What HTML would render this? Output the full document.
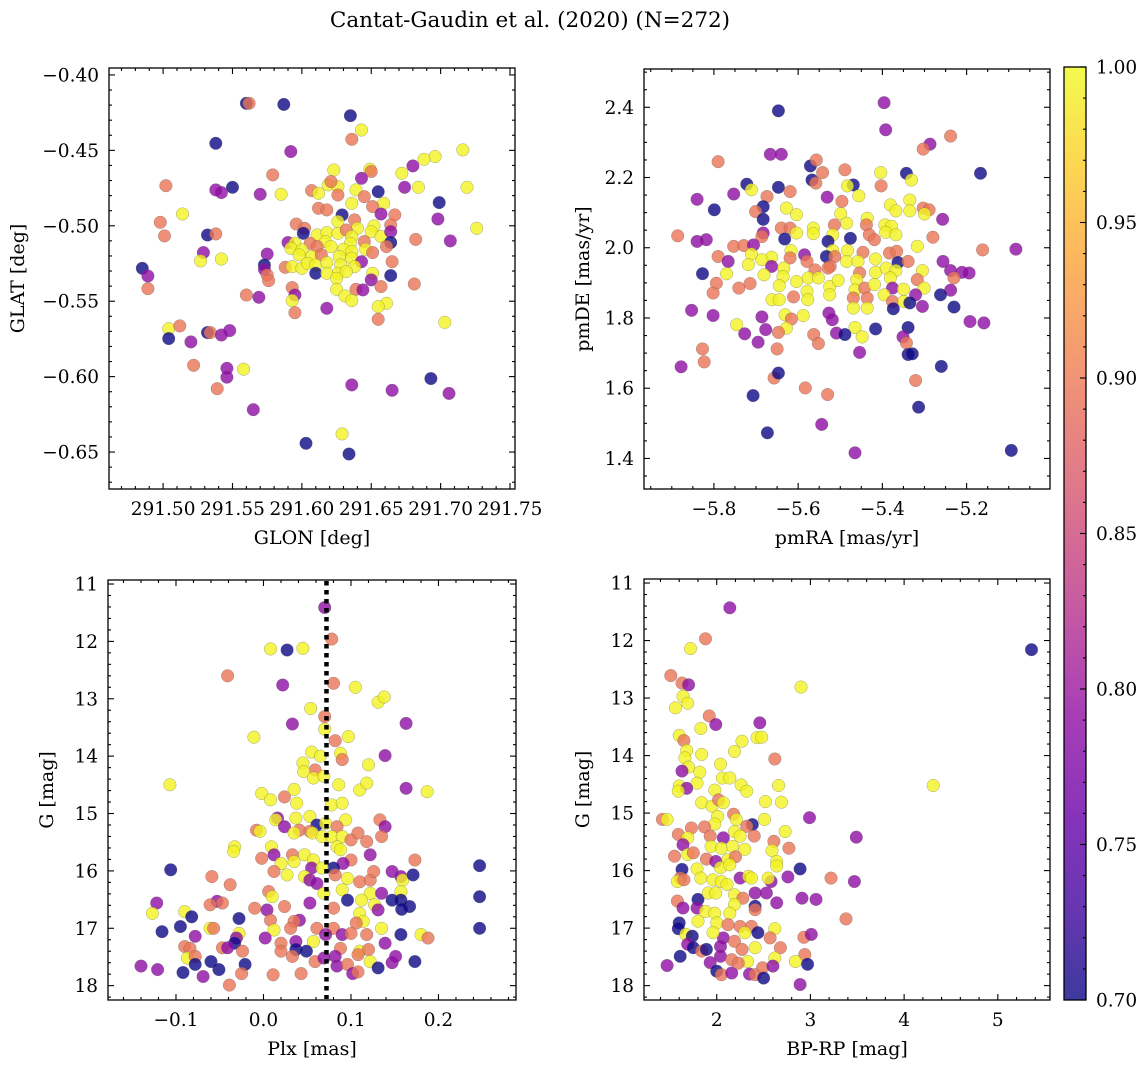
<!DOCTYPE html>
<html><head><meta charset="utf-8"><style>
html,body{margin:0;padding:0;background:#fff;}
svg{display:block;font-family:"DejaVu Serif","Liberation Serif",serif;}
</style></head><body>
<svg id="fig" width="1148" height="1067" viewBox="0 0 1148 1067" xmlns="http://www.w3.org/2000/svg">
<text x="530" y="27" font-size="21.5" text-anchor="middle">Cantat-Gaudin et al. (2020) (N=272)</text>
</svg>
<script>
const B=0.70,P=0.79,O=0.895,Y=0.995;
// Panel 1: GLON vs GLAT
const glon=[291.560,291.562,291.587,291.635,291.643,291.636,291.538,291.592,291.716,291.696,291.688,291.680,291.672,291.623,291.649,291.650,291.643,291.579,291.502,291.538,291.542,291.550,291.570,291.585,291.607,291.612,291.619,291.626,291.621,291.626,291.639,291.645,291.655,291.674,291.684,291.719,291.699,291.636,291.659,291.612,291.618,291.651,291.514,291.629,291.657,291.667,291.698,291.498,291.626,291.638,291.640,291.652,291.664,291.726,291.596,291.602,291.501,291.532,291.538,291.601,291.611,291.618,291.626,291.632,291.636,291.650,291.657,291.664,291.682,291.707,291.590,291.595,291.606,291.617,291.635,291.645,291.664,291.592,291.600,291.611,291.621,291.630,291.636,291.646,291.661,291.529,291.575,291.651,291.598,291.607,291.614,291.627,291.636,291.643,291.527,291.542,291.665,291.485,291.489,291.573,291.573,291.588,291.593,291.600,291.604,291.610,291.618,291.628,291.638,291.626,291.610,291.618,291.632,291.651,291.664,291.575,291.576,291.650,291.657,291.681,291.489,291.625,291.625,291.639,291.644,291.593,291.560,291.569,291.595,291.593,291.631,291.636,291.661,291.655,291.618,291.595,291.655,291.703,291.504,291.512,291.504,291.532,291.534,291.542,291.548,291.520,291.522,291.546,291.546,291.558,291.539,291.565,291.636,291.693,291.665,291.706,291.629,291.603,291.634];
const glat=[-0.4188,-0.4188,-0.4195,-0.427,-0.4365,-0.4427,-0.4453,-0.4508,-0.4497,-0.4541,-0.4559,-0.4603,-0.4652,-0.463,-0.4625,-0.464,-0.4685,-0.4663,-0.4734,-0.4762,-0.478,-0.4745,-0.4791,-0.4791,-0.4767,-0.4785,-0.4729,-0.474,-0.4707,-0.4796,-0.4762,-0.4807,-0.4774,-0.4745,-0.4745,-0.4745,-0.4846,-0.4851,-0.4851,-0.4884,-0.4895,-0.4873,-0.4922,-0.4928,-0.4922,-0.4928,-0.4955,-0.4977,-0.4972,-0.4961,-0.5017,-0.5001,-0.4994,-0.5017,-0.4988,-0.5017,-0.5067,-0.5061,-0.5054,-0.505,-0.5061,-0.5045,-0.505,-0.5028,-0.5072,-0.5039,-0.5072,-0.5039,-0.509,-0.510,-0.5111,-0.5116,-0.5116,-0.5105,-0.5116,-0.5105,-0.5111,-0.5149,-0.516,-0.5138,-0.5138,-0.5156,-0.5171,-0.5156,-0.5138,-0.5178,-0.5187,-0.5178,-0.5193,-0.5204,-0.5193,-0.5204,-0.5215,-0.5238,-0.5233,-0.522,-0.5238,-0.5282,-0.5333,-0.526,-0.5289,-0.5275,-0.5271,-0.5282,-0.5249,-0.526,-0.5244,-0.526,-0.5271,-0.5315,-0.5315,-0.5315,-0.5304,-0.5315,-0.533,-0.5326,-0.5364,-0.5359,-0.5403,-0.5386,-0.5417,-0.5348,-0.5421,-0.5421,-0.5425,-0.541,-0.5459,-0.5474,-0.5459,-0.5496,-0.5465,-0.5496,-0.5514,-0.5536,-0.5547,-0.5576,-0.562,-0.564,-0.5682,-0.5664,-0.5748,-0.5708,-0.5708,-0.5724,-0.5695,-0.577,-0.5925,-0.5945,-0.6004,-0.5951,-0.608,-0.6219,-0.6055,-0.6013,-0.6091,-0.6111,-0.638,-0.6442,-0.6513];
const prob1=[B,O,B,B,Y,O,B,P,Y,Y,Y,P,Y,Y,Y,O,P,O,O,P,P,B,P,Y,O,Y,Y,Y,O,O,Y,O,B,P,Y,Y,B,Y,Y,O,O,O,Y,B,P,O,P,O,Y,O,Y,Y,O,Y,O,O,O,B,O,B,Y,Y,Y,O,Y,Y,Y,P,O,P,P,Y,O,Y,Y,O,B,Y,Y,O,Y,Y,Y,Y,O,P,P,O,Y,Y,O,Y,Y,P,Y,Y,O,B,P,B,P,O,Y,Y,Y,Y,Y,Y,Y,Y,B,Y,Y,Y,B,O,O,P,O,O,O,Y,Y,O,P,O,O,P,P,Y,Y,Y,Y,Y,P,O,O,Y,Y,O,B,B,O,P,P,P,O,P,P,Y,O,P,P,B,P,P,Y,B,B];
// Panel 2: pmRA vs pmDE
const pmra=[-5.396,-5.392,-5.647,-5.238,-5.287,-5.303,-5.666,-5.640,-5.790,-5.571,-5.557,-5.542,-5.489,-5.404,-5.343,-5.331,-5.167,-5.567,-5.558,-5.722,-5.711,-5.647,-5.469,-5.483,-5.403,-5.840,-5.753,-5.674,-5.619,-5.531,-5.456,-5.799,-5.683,-5.701,-5.628,-5.604,-5.496,-5.499,-5.381,-5.368,-5.335,-5.335,-5.303,-5.289,-5.300,-5.257,-5.683,-5.436,-5.485,-5.514,-5.640,-5.619,-5.564,-5.604,-5.438,-5.394,-5.378,-5.886,-5.683,-5.686,-5.632,-5.564,-5.518,-5.476,-5.431,-5.419,-5.392,-5.368,-5.280,-5.840,-5.818,-5.529,-5.753,-5.729,-5.706,-5.617,-5.518,-5.483,-5.446,-5.317,-5.162,-5.083,-5.790,-5.711,-5.663,-5.619,-5.585,-5.533,-5.513,-5.383,-5.366,-5.766,-5.718,-5.686,-5.663,-5.579,-5.524,-5.485,-5.458,-5.416,-5.363,-5.339,-5.256,-5.238,-5.211,-5.194,-5.827,-5.770,-5.681,-5.634,-5.636,-5.560,-5.529,-5.454,-5.416,-5.391,-5.368,-5.305,-5.230,-5.794,-5.802,-5.741,-5.714,-5.645,-5.604,-5.576,-5.552,-5.525,-5.505,-5.461,-5.465,-5.442,-5.419,-5.381,-5.376,-5.350,-5.317,-5.301,-5.238,-5.579,-5.662,-5.645,-5.611,-5.577,-5.525,-5.469,-5.436,-5.396,-5.376,-5.321,-5.262,-5.349,-5.335,-5.374,-5.853,-5.802,-5.305,-5.230,-5.631,-5.588,-5.527,-5.469,-5.436,-5.686,-5.616,-5.519,-5.746,-5.677,-5.628,-5.465,-5.416,-5.339,-5.192,-5.159,-5.727,-5.647,-5.509,-5.489,-5.448,-5.563,-5.351,-5.695,-5.552,-5.343,-5.454,-5.650,-5.827,-5.339,-5.329,-5.823,-5.878,-5.260,-5.657,-5.647,-5.321,-5.583,-5.530,-5.707,-5.314,-5.544,-5.673,-5.465,-5.094];
const pmde=[2.413,2.336,2.390,2.318,2.295,2.281,2.266,2.266,2.245,2.233,2.250,2.214,2.222,2.214,2.212,2.193,2.212,2.193,2.184,2.181,2.165,2.172,2.179,2.176,2.176,2.138,2.153,2.146,2.160,2.144,2.148,2.108,2.117,2.103,2.113,2.094,2.132,2.097,2.122,2.105,2.136,2.105,2.113,2.108,2.096,2.081,2.081,2.084,2.070,2.065,2.056,2.056,2.056,2.042,2.065,2.065,2.061,2.034,2.042,2.032,2.025,2.040,2.037,2.027,2.037,2.023,2.044,2.037,2.030,2.018,2.023,2.018,2.004,2.006,2.008,1.992,1.992,1.992,1.987,2.004,1.994,1.996,1.975,1.982,1.973,1.971,1.980,1.975,1.975,1.985,1.990,1.961,1.952,1.966,1.947,1.961,1.947,1.961,1.961,1.968,1.958,1.961,1.961,1.935,1.930,1.928,1.926,1.926,1.923,1.942,1.918,1.937,1.942,1.928,1.930,1.942,1.935,1.935,1.914,1.899,1.871,1.885,1.898,1.892,1.904,1.914,1.914,1.890,1.907,1.909,1.880,1.885,1.895,1.914,1.885,1.882,1.909,1.885,1.879,1.876,1.852,1.852,1.860,1.852,1.866,1.857,1.857,1.866,1.847,1.866,1.866,1.847,1.843,1.826,1.822,1.807,1.833,1.831,1.809,1.807,1.814,1.828,1.828,1.803,1.797,1.795,1.781,1.767,1.771,1.773,1.769,1.773,1.790,1.786,1.755,1.759,1.757,1.753,1.746,1.753,1.746,1.731,1.727,1.729,1.702,1.712,1.712,1.696,1.698,1.675,1.661,1.662,1.629,1.643,1.622,1.601,1.582,1.579,1.546,1.497,1.473,1.416,1.423];
const prob2=[P,P,B,O,P,O,P,P,O,B,O,O,O,Y,B,Y,B,B,O,B,Y,B,B,Y,O,P,P,O,O,P,Y,B,B,O,Y,Y,O,Y,Y,Y,Y,Y,O,O,Y,P,B,Y,Y,O,O,O,Y,Y,O,Y,Y,O,P,O,B,Y,Y,B,O,O,Y,Y,O,P,P,B,O,O,P,Y,Y,Y,O,Y,O,P,O,Y,Y,O,P,B,O,O,O,P,Y,Y,P,O,O,Y,Y,Y,B,O,P,P,P,P,B,Y,Y,Y,Y,O,O,O,Y,Y,Y,Y,O,O,O,O,O,Y,Y,Y,Y,Y,Y,Y,Y,O,Y,Y,P,Y,O,Y,P,Y,Y,Y,O,Y,Y,O,O,Y,O,P,B,Y,B,B,P,P,P,B,Y,Y,P,Y,Y,P,O,P,Y,P,Y,Y,B,B,P,P,P,O,P,B,Y,O,P,P,O,O,P,O,O,B,B,O,P,B,O,B,O,O,O,B,B,P,B,P,B,B];
// Panel 3: Plx vs G
const plx=[.070,.078,.008,.027,.045,-.041,.022,.080,.105,.131,.138,.054,.070,.033,.163,-.011,.070,.082,.097,.139,.055,.088,.090,.045,.065,.120,.059,.046,.057,.069,-.107,.163,.187,.086,.110,.118,-.002,.008,.024,.035,.038,.078,.090,.016,.014,.037,.053,.061,.071,.094,.133,.139,-.008,-.004,.024,.041,.035,.053,.056,.067,.084,.078,.090,.100,.108,.118,.135,-.033,-.034,.009,.084,.088,.012,-.002,.033,.047,.035,.057,.100,.122,.173,.091,-.106,.020,.012,.027,.055,.080,.067,.082,-.059,.047,.053,.061,.096,.110,.122,.126,.147,.157,.159,.171,.247,-.038,.090,.069,.006,.122,.135,.157,.147,.157,-.122,-.053,-.047,-.061,.010,.024,.053,.096,.112,.127,.131,.167,.158,.247,-.127,-.010,.004,.080,.110,-.090,-.082,-.028,.008,.041,.114,.106,.035,-.095,-.061,-.057,-.116,-.028,-.031,.012,.031,.061,.080,.090,.100,.135,.118,.157,.180,.188,.247,-.078,.002,.057,.071,-.033,-.047,-.041,-.090,-.084,.020,.037,.037,.049,.020,-.024,.088,.110,.139,.120,-.087,-.078,.033,.059,.069,.082,.108,.122,.131,.147,.151,.173,-.140,-.121,-.092,-.078,-.060,-.051,-.069,-.021,-.025,.011,.043,-.039,.084,.096,.102,.108];
const gmag3=[11.41,11.96,12.13,12.15,12.12,12.60,12.76,12.73,12.80,13.06,12.97,13.17,13.31,13.44,13.43,13.67,13.53,13.73,13.66,13.99,13.93,13.95,14.06,14.12,14.0,14.15,14.24,14.27,14.38,14.35,14.50,14.56,14.62,14.50,14.59,14.47,14.65,14.76,14.71,14.58,14.82,14.85,14.82,15.08,15.11,15.08,15.05,15.2,15.17,15.11,15.11,15.23,15.29,15.31,15.23,15.29,15.34,15.31,15.34,15.40,15.23,15.40,15.40,15.46,15.34,15.49,15.40,15.58,15.66,15.58,15.58,15.63,15.72,15.78,15.72,15.72,15.84,15.81,15.81,15.72,15.81,15.87,15.98,15.87,16.01,16.07,15.95,15.95,15.95,16.07,16.10,16.10,16.16,16.22,16.13,16.19,16.16,16.01,16.01,16.10,16.16,16.07,15.91,16.24,16.33,16.39,16.36,16.39,16.39,16.36,16.51,16.51,16.56,16.53,16.56,16.59,16.45,16.62,16.56,16.51,16.51,16.59,16.68,16.62,16.67,16.45,16.74,16.65,16.68,16.65,16.74,16.71,16.80,16.83,16.86,16.86,16.88,16.91,16.88,16.97,17.0,17.0,17.06,17.09,17.17,17.03,17.0,17.0,17.0,17.11,17.09,17.0,17.11,17.11,17.11,17.17,17.0,17.14,17.17,17.23,17.11,17.26,17.34,17.34,17.32,17.35,17.26,17.23,17.37,17.40,17.40,17.40,17.35,17.40,17.26,17.37,17.52,17.49,17.49,17.58,17.52,17.49,17.46,17.58,17.69,17.60,17.49,17.58,17.66,17.72,17.77,17.63,17.58,17.72,17.84,17.63,17.79,17.81,17.79,17.99,17.66,17.63,17.79,17.76];
const prob3=[P,O,Y,B,Y,O,P,O,Y,Y,Y,Y,O,P,P,Y,Y,O,Y,P,Y,Y,O,Y,Y,Y,O,Y,Y,Y,Y,P,Y,Y,Y,Y,Y,Y,O,Y,Y,Y,Y,P,Y,Y,Y,B,Y,Y,O,P,O,Y,P,O,Y,O,Y,Y,O,Y,Y,O,O,O,O,Y,Y,Y,Y,Y,P,O,O,Y,Y,Y,O,P,O,P,B,Y,O,Y,P,B,Y,O,O,Y,P,P,Y,O,O,O,P,P,Y,B,B,O,Y,Y,O,Y,P,Y,B,B,P,P,O,O,Y,O,P,B,Y,Y,P,B,B,B,Y,O,P,O,Y,Y,B,B,O,P,Y,O,O,B,Y,O,B,Y,P,Y,O,O,O,P,O,Y,O,B,Y,O,B,P,P,Y,P,B,O,P,O,O,O,P,B,B,O,O,O,Y,P,O,Y,O,O,O,P,P,O,Y,B,P,P,B,P,P,B,B,B,B,P,B,O,O,O,O,P,O,P,O];
// Panel 4: BP-RP vs G
const bprp=[2.14,1.88,1.72,5.36,1.51,1.63,1.70,2.90,1.64,1.69,1.56,1.92,1.99,2.46,1.83,1.60,1.65,2.27,2.43,2.48,2.19,1.68,1.84,1.66,2.62,2.04,1.70,1.63,1.82,2.06,2.14,1.79,2.26,2.66,4.31,1.60,1.68,1.59,2.32,1.98,1.84,2.52,2.69,1.95,2.02,2.07,1.42,1.47,2.01,2.18,2.21,2.99,2.51,2.38,1.98,1.73,1.87,2.19,2.32,2.73,1.59,1.69,2.07,2.25,2.40,3.49,1.64,1.93,1.94,2.05,2.17,2.30,2.61,2.77,2.59,1.55,1.69,1.75,1.89,1.99,2.12,2.20,2.04,2.14,2.64,2.64,2.89,1.63,1.79,1.61,1.58,1.65,1.83,1.96,2.05,2.11,2.25,2.34,2.37,2.58,2.55,2.76,3.22,3.47,1.58,1.64,1.80,1.91,1.99,2.19,2.41,2.53,2.28,2.19,2.41,2.64,2.91,3.06,1.79,1.88,1.98,2.14,2.41,3.38,1.60,1.59,1.80,2.00,2.12,2.25,2.37,2.44,2.30,2.62,1.67,1.74,2.07,1.96,2.93,3.01,1.69,1.75,1.84,1.89,2.04,2.19,2.27,2.41,2.57,2.68,2.94,1.61,1.47,1.93,2.04,2.16,2.33,2.62,2.84,2.97,2.00,2.05,2.16,2.23,2.35,2.41,2.49,2.50,2.60,2.89];
const gmag4=[11.43,11.97,12.14,12.16,12.61,12.74,12.77,12.81,12.97,13.09,13.17,13.31,13.46,13.43,13.53,13.65,13.74,13.75,13.69,13.68,13.93,13.91,13.98,14.04,14.06,14.15,14.20,14.27,14.29,14.39,14.39,14.48,14.51,14.52,14.52,14.53,14.57,14.62,14.62,14.60,14.82,14.80,14.81,14.88,14.77,14.82,15.11,15.11,15.06,15.02,15.11,15.08,15.11,15.20,15.19,15.26,15.24,15.32,15.23,15.32,15.37,15.43,15.43,15.40,15.40,15.42,15.55,15.40,15.58,15.61,15.58,15.63,15.49,15.61,15.65,15.75,15.72,15.69,15.80,15.84,15.81,15.76,15.95,15.90,15.84,15.92,15.97,15.98,15.97,16.13,16.19,16.16,16.13,16.16,16.19,16.24,16.13,16.10,16.13,16.19,16.13,16.11,16.13,16.19,16.53,16.65,16.50,16.39,16.39,16.42,16.39,16.39,16.48,16.59,16.62,16.56,16.48,16.50,16.65,16.71,16.74,16.74,16.68,16.84,16.91,17.01,16.88,16.91,16.94,16.97,16.97,17.08,17.08,17.01,17.11,17.14,17.17,17.08,17.16,17.11,17.28,17.34,17.40,17.37,17.32,17.23,17.37,17.34,17.17,17.34,17.46,17.49,17.65,17.60,17.49,17.55,17.58,17.52,17.58,17.63,17.75,17.81,17.78,17.61,17.80,17.81,17.69,17.87,17.66,17.98];
const prob4=[P,O,Y,B,O,O,P,Y,Y,Y,Y,O,P,P,Y,Y,O,Y,Y,Y,Y,Y,Y,Y,O,Y,Y,P,Y,Y,Y,Y,Y,Y,Y,Y,P,Y,Y,Y,Y,Y,Y,Y,O,Y,O,Y,Y,O,Y,P,Y,B,Y,O,O,Y,O,Y,O,Y,P,Y,O,P,P,O,Y,Y,Y,Y,O,O,Y,O,Y,O,O,P,Y,O,Y,Y,Y,Y,B,B,Y,O,Y,O,Y,Y,Y,Y,P,Y,Y,P,Y,P,O,P,O,P,B,Y,Y,Y,P,P,O,Y,B,P,P,P,P,Y,Y,Y,O,O,B,B,Y,Y,O,O,O,B,Y,Y,Y,B,P,Y,O,P,P,B,O,B,P,O,O,Y,O,O,O,B,P,P,P,O,Y,Y,Y,B,B,O,P,O,P,O,O,B,P,P,O];
const cbarTicks=[0.70,0.75,0.80,0.85,0.90,0.95,1.00];
const plxLine=0.072;

const NS='http://www.w3.org/2000/svg';
const svg=document.getElementById('fig');
const TICKFS=18.5, LABFS=19;
function mk(tag,attrs,parent){const e=document.createElementNS(NS,tag);for(const k in attrs)e.setAttribute(k,attrs[k]);(parent||svg).appendChild(e);return e;}
const stops=[[13,8,135],[65,4,157],[106,0,168],[143,13,164],[177,42,144],[204,71,120],[225,100,98],[242,132,75],[252,166,54],[252,206,37],[240,249,33]];
function plasma(t){t=Math.max(0,Math.min(1,t));const f=t*10,i=Math.min(9,Math.floor(f)),r=f-i;const a=stops[i],b=stops[i+1];return 'rgb('+[0,1,2].map(k=>Math.round(a[k]+(b[k]-a[k])*r)).join(',')+')';}
function cval(p){return (p-0.7)/0.3;}
function fmt(v,d){const s=Math.abs(v).toFixed(d);return (v<-1e-9?'−':'')+s;}

function panel(nm,box,xlim,ylim,xMaj,xMinStep,yMaj,yMinStep,xd,yd,xs,ys,cs,xlabel,ylabel,ylabX){
  const g=mk('g',{});
  
  
  const sx=v=>box.x0+(v-xlim[0])/(xlim[1]-xlim[0])*(box.x1-box.x0);
  const sy=v=>box.y0+(v-ylim[0])/(ylim[1]-ylim[0])*(box.y1-box.y0);
  const pts=mk('g',{},g);
  
  
  for(let i=0;i<xs.length;i++){
    const c=mk('circle',{cx:sx(xs[i]).toFixed(1),cy:sy(ys[i]).toFixed(1),r:6.3,fill:plasma(cval(cs[i])),'fill-opacity':0.8,stroke:'#555','stroke-opacity':0.5,'stroke-width':0.5},pts);
    
    
  }
  g.sx=sx;g.sy=sy;
  const fr=mk('rect',{x:box.x0,y:box.y0,width:box.x1-box.x0,height:box.y1-box.y0,fill:'none',stroke:'#000','stroke-width':1.3},g);
  
  
  const tk=mk('g',{stroke:'#000','stroke-width':1.1},g);
  
  
  const xlo=Math.min(...xlim),xhi=Math.max(...xlim),ylo=Math.min(...ylim),yhi=Math.max(...ylim);
  for(let k=Math.ceil(xlo/xMinStep-1e-6);k*xMinStep<=xhi+1e-9;k++){
    const v=k*xMinStep,x=sx(v);
    const isMaj=xMaj.some(m=>Math.abs(m-v)<xMinStep*0.1);
    const L=isMaj?6:3;
    mk('line',{x1:x,x2:x,y1:box.y1,y2:box.y1-L},tk);mk('line',{x1:x,x2:x,y1:box.y0,y2:box.y0+L},tk);
  }
  for(let k=Math.ceil(ylo/yMinStep-1e-6);k*yMinStep<=yhi+1e-9;k++){
    const v=k*yMinStep,y=sy(v);
    const isMaj=yMaj.some(m=>Math.abs(m-v)<yMinStep*0.1);
    const L=isMaj?6:3;
    mk('line',{x1:box.x0,x2:box.x0+L,y1:y,y2:y},tk);mk('line',{x1:box.x1,x2:box.x1-L,y1:y,y2:y},tk);
  }
  xMaj.forEach(v=>{const t=mk('text',{x:sx(v),y:box.y1+26,'font-size':TICKFS,'text-anchor':'middle'},g);t.textContent=fmt(v,xd);
    });
  yMaj.forEach(v=>{const t=mk('text',{x:box.x0-10,y:sy(v)+6.5,'font-size':TICKFS,'text-anchor':'end'},g);t.textContent=fmt(v,yd);
    });
  const xl=mk('text',{x:(box.x0+box.x1)/2,y:box.y1+55,'font-size':LABFS,'text-anchor':'middle'},g);xl.textContent=xlabel;
  
  const cy=(box.y0+box.y1)/2;
  const yl=mk('text',{x:ylabX,y:cy,'font-size':LABFS,'text-anchor':'middle',transform:'rotate(-90 '+ylabX+' '+cy+')'},g);yl.textContent=ylabel;
  
  return g;
}

panel('glon-glat-panel',{x0:109,x1:515,y0:68,y1:489},[291.461,291.7536],[-0.3954,-0.6745],
  [291.50,291.55,291.60,291.65,291.70,291.75],0.01,[-0.40,-0.45,-0.50,-0.55,-0.60,-0.65],0.01,2,2,
  glon,glat,prob1,'GLON [deg]','GLAT [deg]',24);
panel('pm-panel',{x0:644,x1:1050,y0:69,y1:489},[-5.966,-5.002],[2.509,1.313],
  [-5.8,-5.6,-5.4,-5.2],0.05,[2.4,2.2,2.0,1.8,1.6,1.4],0.05,1,1,
  pmra,pmde,prob2,'pmRA [mas/yr]','pmDE [mas/yr]',589);
const p3=panel('plx-g-panel',{x0:108,x1:516,y0:580,y1:1000},[-0.1777,0.2886],[10.93,18.25],
  [-0.1,0.0,0.1,0.2],0.02,[11,12,13,14,15,16,17,18],0.2,1,0,
  plx,gmag3,prob3,'Plx [mas]','G [mag]',53);
const dl=mk('line',{x1:p3.sx(plxLine),x2:p3.sx(plxLine),y1:581,y2:999,stroke:'#000','stroke-width':4.5,'stroke-dasharray':'4.5 4.5'},p3);


panel('cmd-panel',{x0:644,x1:1050,y0:579,y1:1000},[1.224,5.557],[10.93,18.25],
  [2,3,4,5],0.2,[11,12,13,14,15,16,17,18],0.2,0,0,
  bprp,gmag4,prob4,'BP-RP [mag]','G [mag]',589);

// colorbar
const cb=mk('g',{});


const defs=mk('defs',{},cb);
const lg=mk('linearGradient',{id:'cbg',x1:0,y1:1,x2:0,y2:0},defs);
for(let i=0;i<=20;i++){mk('stop',{offset:(i/20),'stop-color':plasma(i/20),'stop-opacity':0.8},lg);}
const cbx0=1064,cbx1=1086,cby0=67,cby1=1000;
const cr=mk('rect',{x:cbx0,y:cby0,width:cbx1-cbx0,height:cby1-cby0,fill:'url(#cbg)',stroke:'#000','stroke-width':1.3},cb);


const cys=v=>cby1-(v-0.7)/0.3*(cby1-cby0);
for(let k=70;k<=100;k++){const v=k/100,y=cys(v);const maj=k%5===0;
  mk('line',{x1:cbx1,x2:cbx1-(maj?6:3),y1:y,y2:y,stroke:'#000','stroke-width':1.1},cb);}
cbarTicks.forEach(v=>{const t=mk('text',{x:cbx1+10,y:cys(v)+6.5,'font-size':TICKFS},cb);t.textContent=v.toFixed(2);
  });
</script>
</body></html>
